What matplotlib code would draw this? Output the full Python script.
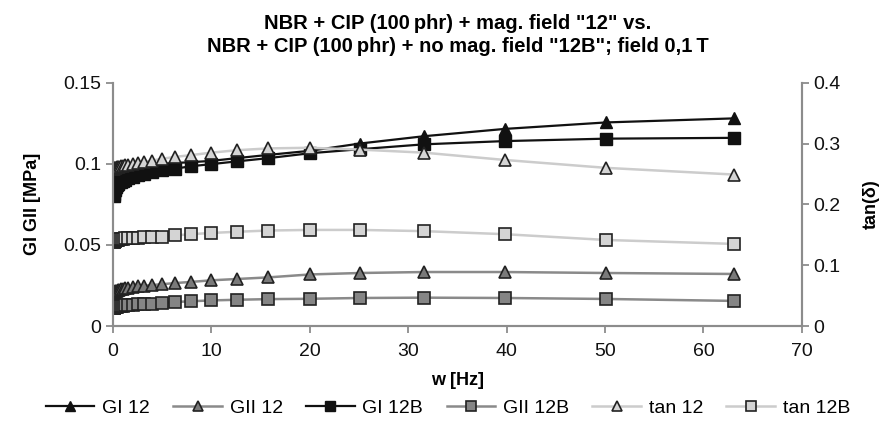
import matplotlib
matplotlib.use("Agg")
import matplotlib.pyplot as plt
from matplotlib.ticker import FormatStrFormatter

plt.rcParams['font.family'] = ['Liberation Sans', 'DejaVu Sans']

# frequency sweep [Hz]
freq = [0.1, 0.126, 0.158, 0.2, 0.251, 0.316, 0.398, 0.501, 0.631, 0.794,
        1.0, 1.26, 1.58, 2.0, 2.51, 3.16, 3.98, 5.01, 6.31, 7.94,
        10.0, 12.6, 15.8, 20.0, 25.1, 31.6, 39.8, 50.1, 63.1]

gi_12 = [0.095, 0.0953, 0.0956, 0.0959, 0.0962, 0.0965, 0.0968, 0.097, 0.0973, 0.0976,
         0.0978, 0.098, 0.0983, 0.0986, 0.0989, 0.0992, 0.0996, 0.1, 0.1005, 0.101,
         0.1018, 0.1035, 0.1055, 0.108, 0.1125, 0.117, 0.1215, 0.1255, 0.128]
gii_12 = [0.0200, 0.0204, 0.0207, 0.021, 0.0213, 0.0216, 0.0219, 0.0222, 0.0225, 0.0228,
          0.0231, 0.0234, 0.0237, 0.024, 0.0244, 0.0248, 0.0253, 0.0258, 0.0265, 0.0272,
          0.0282, 0.029, 0.030, 0.0318, 0.0327, 0.0333, 0.0333, 0.0327, 0.0321]
gi_12b = [0.080, 0.0815, 0.083, 0.084, 0.085, 0.086, 0.087, 0.0878, 0.0885, 0.089,
          0.0895, 0.0902, 0.091, 0.092, 0.093, 0.094, 0.095, 0.096, 0.097, 0.0985,
          0.0998, 0.1015, 0.1035, 0.1065, 0.109, 0.112, 0.114, 0.1155, 0.116]
gii_12b = [0.0110, 0.0112, 0.0114, 0.0116, 0.0118, 0.0119, 0.012, 0.0121, 0.0122, 0.0123,
           0.0125, 0.0127, 0.0129, 0.0131, 0.0133, 0.0136, 0.0139, 0.0143, 0.0148, 0.0153,
           0.0158, 0.0162, 0.0166, 0.0168, 0.0173, 0.0175, 0.0173, 0.0167, 0.0155]
tan_12 = [0.258, 0.2585, 0.259, 0.2595, 0.26, 0.2605, 0.261, 0.2615, 0.262, 0.2625,
          0.263, 0.264, 0.265, 0.266, 0.268, 0.27, 0.272, 0.275, 0.278, 0.281,
          0.285, 0.289, 0.292, 0.293, 0.290, 0.285, 0.273, 0.260, 0.249]
tan_12b = [0.138, 0.1388, 0.1395, 0.140, 0.1405, 0.141, 0.1415, 0.142, 0.1425, 0.143,
           0.1435, 0.144, 0.1445, 0.145, 0.1455, 0.146, 0.1465, 0.147, 0.149, 0.151,
           0.153, 0.155, 0.157, 0.158, 0.158, 0.156, 0.151, 0.1415, 0.135]

grey = '#8c8c8c'
fig, ax = plt.subplots(figsize=(8.96, 4.24), dpi=100)
fig.subplots_adjust(left=0.126, right=0.895, top=0.805, bottom=0.231)
ax2 = ax.twinx()

ms = 8.5
h1, = ax.plot(freq, gi_12, color='#111111', lw=1.6, marker='^', ms=ms,
              mfc='#111111', mec='#111111', label='GI 12')
h2, = ax.plot(freq, gii_12, color='#8a8a8a', lw=1.8, marker='^', ms=ms,
              mfc='#7a7a7a', mec='#222222', mew=1.2, label='GII 12')
h3, = ax.plot(freq, gi_12b, color='#111111', lw=1.6, marker='s', ms=ms,
              mfc='#111111', mec='#111111', label='GI 12B')
h4, = ax.plot(freq, gii_12b, color='#8a8a8a', lw=1.8, marker='s', ms=ms,
              mfc='#858585', mec='#222222', mew=1.2, label='GII 12B')
h5, = ax2.plot(freq, tan_12, color='#cccccc', lw=1.8, marker='^', ms=ms,
               mfc='#d4d4d4', mec='#222222', mew=1.2, label='tan 12')
h6, = ax2.plot(freq, tan_12b, color='#cccccc', lw=1.8, marker='s', ms=ms,
               mfc='#d4d4d4', mec='#222222', mew=1.2, label='tan 12B')

ax.set_xlim(0, 70)
ax.set_ylim(0, 0.15)
ax2.set_ylim(0, 0.4)
ax.set_xticks(range(0, 71, 10))
ax.set_yticks([0, 0.05, 0.1, 0.15])
ax2.set_yticks([0, 0.1, 0.2, 0.3, 0.4])
ax.yaxis.set_major_formatter(FormatStrFormatter('%g'))
ax2.yaxis.set_major_formatter(FormatStrFormatter('%g'))

for a in (ax, ax2):
    a.spines['top'].set_visible(False)
    for s in a.spines.values():
        s.set_color(grey)
        s.set_linewidth(1.5)
    a.tick_params(colors=grey, labelcolor='#111111', labelsize=14,
                  length=5, width=1.3, direction='out')
ax.tick_params(axis='x', pad=7)

ax.set_xlabel('w [Hz]', fontsize=13, fontweight='bold', labelpad=9)
ax.set_ylabel('GI GII [MPa]', fontsize=13, fontweight='bold', labelpad=16)
ax2.set_ylabel('tan(δ)', fontsize=13, fontweight='bold', labelpad=16)
ax.set_title('NBR + CIP (100\u2009phr) + mag. field "12" vs.\n'
             'NBR + CIP (100\u2009phr) + no mag. field "12B"; field 0,1\u2009T',
             fontsize=14.5, fontweight='bold', pad=22, linespacing=1.25)

fig.legend(handles=[h1, h2, h3, h4, h5, h6], loc='lower center', ncol=6,
           frameon=False, fontsize=14, bbox_to_anchor=(0.5, -0.025), numpoints=1,
           handlelength=2.5, handletextpad=0.4, columnspacing=1.2, markerscale=0.9)

fig.savefig('out.png', dpi=100)
